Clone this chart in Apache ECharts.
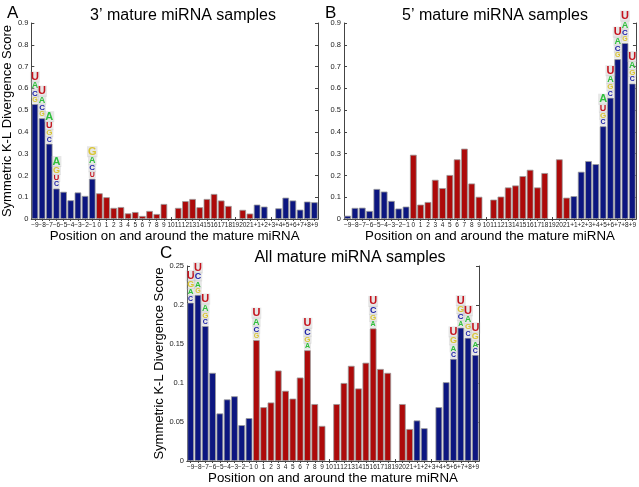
<!DOCTYPE html>
<html>
<head>
<meta charset="utf-8">
<script src="https://cdn.jsdelivr.net/npm/echarts@6/dist/echarts.min.js"></script>
<style>
  html, body { margin: 0; padding: 0; background: #fff; }
  #main { width: 639px; height: 487px; }
</style>
</head>
<body>
<div id="main"></div>
<script>
// positions -9..-1, 0..21, +1..+9
const categories = ['−9','−8','−7','−6','−5','−4','−3','−2','−1',
  '0','1','2','3','4','5','6','7','8','9','10','11','12','13','14','15','16','17','18','19','20','21',
  '+1','+2','+3','+4','+5','+6','+7','+8','+9'];

// 3' mature miRNA samples
const valsA = [0.528, 0.463, 0.346, 0.140, 0.125, 0.086, 0.122, 0.106, 0.185,
  0.118, 0.100, 0.051, 0.055, 0.026, 0.032, 0.014, 0.037, 0.023, 0.069, null,
  0.051, 0.082, 0.092, 0.054, 0.092, 0.115, 0.085, 0.060, null, 0.042, 0.025,
  0.066, 0.057, null, 0.049, 0.098, 0.085, 0.043, 0.080, 0.077];

// 5' mature miRNA samples
const valsB = [0.015, 0.051, 0.052, 0.037, 0.138, 0.126, 0.083, 0.048, 0.057,
  0.295, 0.066, 0.078, 0.180, 0.142, 0.202, 0.274, 0.323, 0.163, 0.102, null,
  0.089, 0.103, 0.145, 0.154, 0.197, 0.226, 0.145, 0.211, null, 0.274, 0.098,
  0.105, 0.217, 0.266, 0.252, 0.426, 0.557, 0.734, 0.808, 0.622];

// all mature miRNA samples
const valsC = [0.203, 0.213, 0.173, 0.113, 0.061, 0.079, 0.083, 0.046, 0.055,
  0.155, 0.069, 0.075, 0.116, 0.090, 0.080, 0.107, 0.142, 0.073, 0.045, null,
  0.073, 0.100, 0.122, 0.093, 0.126, 0.170, 0.118, 0.113, null, 0.073, 0.041,
  0.052, 0.042, null, 0.069, 0.101, 0.131, 0.171, 0.158, 0.136];

// sequence logos above the bars (top letter first)
const logoA = {'−9':'UACG', '−8':'UACG', '−7':'AUGC', '−6':'AGUC', '−1':'GACU'};
const logoB = {'+5':'AUGC', '+6':'UAGC', '+7':'UACG', '+8':'UACG', '+9':'UAGC'};
const logoC = {'−9':'UGAC', '−8':'UCAG', '−7':'UAGC', '0':'UACG', '7':'UCGA', '16':'UCGA',
  '+6':'UGAC', '+7':'UGCA', '+8':'UAGC', '+9':'UGAC'};

const FONT = 'Liberation Sans';
const BLUE = '#0c1680', RED = '#ad0a0a';
const letterColor = {U:'#c4121c', A:'#2fbf3c', C:'#1d22a8', G:'#d9c535'};
const letterSize = [11, 9, 8, 7];
const rich = {};
for (const L in letterColor) {
  letterSize.forEach((s, i) => {
    rich[L + i] = {color: letterColor[L], fontSize: s, fontWeight: 'bold', lineHeight: s - 1,
      fontFamily: FONT, backgroundColor: 'rgba(185,185,185,0.35)', padding: [0, 1]};
  });
}
function logoText(seq) {
  return seq.split('').map((L, i) => '{' + L + i + '|' + L + '}').join('\n');
}

function barData(vals, logos) {
  return vals.map((v, i) => {
    const item = {value: v, itemStyle: {color: (i < 9 || i > 30) ? BLUE : RED}};
    const seq = logos[categories[i]];
    if (seq) {
      item.label = {show: true, position: 'top', distance: 1, formatter: logoText(seq), rich: rich};
    }
    return item;
  });
}

const grids = [
  {left: 31, top: 23, width: 287, height: 196},
  {left: 344, top: 23, width: 292, height: 196},
  {left: 187, top: 266, width: 292, height: 195}
];
const yMax = [0.9, 0.9, 0.25];
const yStep = [0.1, 0.1, 0.05];
const allVals = [valsA, valsB, valsC];
const allLogos = [logoA, logoB, logoC];
const yNames = ['Symmetric K-L Divergence Score', '', 'Symmetric K-L Divergence Score'];

const xAxis = [], yAxis = [], series = [];
grids.forEach((g, k) => {
  xAxis.push({
    type: 'category', gridIndex: k, data: categories, position: 'bottom',
    name: 'Position on and around the mature miRNA', nameLocation: 'middle', nameGap: 7,
    nameTextStyle: {fontFamily: FONT, fontSize: 13.3, color: '#000'},
    axisLine: {lineStyle: {color: '#444', width: 1}},
    axisTick: {show: true, inside: true, length: 2, alignWithLabel: true, lineStyle: {color: '#444'}},
    axisLabel: {interval: 0, fontFamily: FONT, fontSize: 6.5, color: '#222', margin: 3}
  });
  xAxis.push({
    type: 'category', gridIndex: k, data: categories, position: 'top',
    axisLine: {lineStyle: {color: '#444', width: 1}},
    axisTick: {show: true, inside: true, length: 2, alignWithLabel: true, interval: 0, lineStyle: {color: '#444'}},
    axisLabel: {show: false}
  });
  yAxis.push({
    type: 'value', gridIndex: k, min: 0, max: yMax[k], interval: yStep[k], position: 'left',
    name: yNames[k], nameLocation: 'middle', nameGap: 17,
    nameTextStyle: {fontFamily: FONT, fontSize: 13, color: '#000'},
    axisLine: {show: true, lineStyle: {color: '#444', width: 1}},
    axisTick: {show: true, inside: true, length: 3, lineStyle: {color: '#444'}},
    axisLabel: {fontFamily: FONT, fontSize: 7.5, color: '#222', margin: 3},
    splitLine: {show: false}
  });
  yAxis.push({
    type: 'value', gridIndex: k, min: 0, max: yMax[k], interval: yStep[k], position: 'right',
    axisLine: {show: true, lineStyle: {color: '#444', width: 1}},
    axisTick: {show: true, inside: true, length: 3, lineStyle: {color: '#444'}},
    axisLabel: {show: false},
    splitLine: {show: false}
  });
  series.push({
    type: 'bar', xAxisIndex: 2 * k, yAxisIndex: 2 * k,
    data: barData(allVals[k], allLogos[k]),
    barCategoryGap: '8%',
    itemStyle: {borderColor: '#9a9a9a', borderWidth: 0.8},
    animation: false
  });
});

const titleStyle = {fontFamily: FONT, fontSize: 16, fontWeight: 'normal', color: '#000'};
const letterStyle = {fontFamily: FONT, fontSize: 17, fontWeight: 'normal', color: '#000'};

const chart = echarts.init(document.getElementById('main'), null, {renderer: 'canvas'});
chart.setOption({
  backgroundColor: '#fff',
  animation: false,
  title: [
    {text: 'A', left: 2, top: 0, textStyle: letterStyle},
    {text: '3’ mature miRNA samples', left: 178, top: 3, textAlign: 'center', textStyle: titleStyle},
    {text: 'B', left: 320, top: 0, textStyle: letterStyle},
    {text: '5’ mature miRNA samples', left: 490, top: 3, textAlign: 'center', textStyle: titleStyle},
    {text: 'C', left: 155, top: 240, textStyle: letterStyle},
    {text: 'All mature miRNA samples', left: 345, top: 245, textAlign: 'center', textStyle: titleStyle}
  ],
  grid: grids,
  xAxis: xAxis,
  yAxis: yAxis,
  series: series
});
</script>
</body>
</html>
